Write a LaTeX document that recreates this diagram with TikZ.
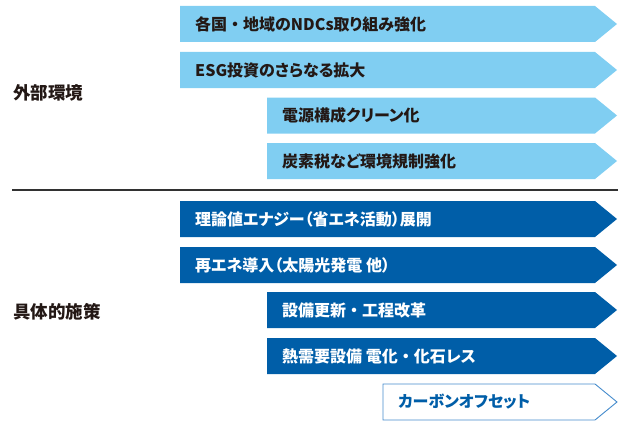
\documentclass[tikz,border=0pt]{standalone}
\usepackage{fontspec}
\setmainfont{Noto Sans CJK JP}[RawFeature=+palt]
\newfontfamily\nopaltfont{Noto Sans CJK JP}
\newcommand\ndot{{\nopaltfont\bfseries ・}}
\definecolor{lightarr}{RGB}{128,206,242}
\definecolor{darkarr}{RGB}{0,94,168}
\definecolor{outarr}{RGB}{70,140,205}
\definecolor{txtdark}{RGB}{35,24,21}
\definecolor{rulecol}{RGB}{50,50,50}
\tikzset{
  lightshape/.style={fill=lightarr},
  darkshape/.style={fill=darkarr},
  outshape/.style={draw=outarr,line width=0.9pt,fill=white},
  lighttxt/.style={anchor=west,inner sep=0pt,font=\bfseries\fontsize{16}{16}\selectfont,text=txtdark},
  darktxt/.style={anchor=west,inner sep=0pt,font=\bfseries\fontsize{16}{16}\selectfont,text=white},
  outtxt/.style={anchor=west,inner sep=0pt,font=\bfseries\fontsize{16}{16}\selectfont,text=darkarr},
  grouplabel/.style={anchor=west,inner sep=0pt,font=\bfseries\fontsize{17.5}{17.5}\selectfont,text=txtdark},
}
% #1 style, #2 left x, #3 top y, #4 text style, #5 name, #6 text
\newcommand\arrowrow[6]{%
  \path[#1] (#2,#3) -- (595,#3) -- (617,#3+18) -- (595,#3+36) -- (#2,#3+36) -- cycle;
  \node[#4] (#5) at (#2+15,#3+18) {#6};
}
\begin{document}
\begin{tikzpicture}[x=1pt,y=-1pt]
\useasboundingbox (0,0) rectangle (621,428);
\arrowrow{lightshape}{180}{6}{lighttxt}{a1}{各国\ndot 地域のNDCs取り組み強化}
\arrowrow{lightshape}{180}{52}{lighttxt}{a2}{ESG投資のさらなる拡大}
\arrowrow{lightshape}{267}{97.5}{lighttxt}{a3}{電源構成クリーン化}
\arrowrow{lightshape}{267}{143}{lighttxt}{a4}{炭素税など環境規制強化}
\node[grouplabel] (g1) at (13,93) {外部環境};
\coordinate (l1) at (12,190);
\coordinate (l2) at (618,190);
\draw[rulecol,line width=1.4pt] (l1) -- (l2);
\arrowrow{darkshape}{180}{201}{darktxt}{b1}{理論値エナジー（省エネ活動）展開}
\arrowrow{darkshape}{180}{247}{darktxt}{b2}{再エネ導入（太陽光発電 他）}
\arrowrow{darkshape}{267}{292}{darktxt}{b3}{設備更新\ndot 工程改革}
\arrowrow{darkshape}{267}{338}{darktxt}{b4}{熱需要設備 電化\ndot 化石レス}
\arrowrow{outshape}{383}{384}{outtxt}{b5}{カーボンオフセット}
\node[grouplabel] (g2) at (13,312) {具体的施策};
\end{tikzpicture}
\end{document}
